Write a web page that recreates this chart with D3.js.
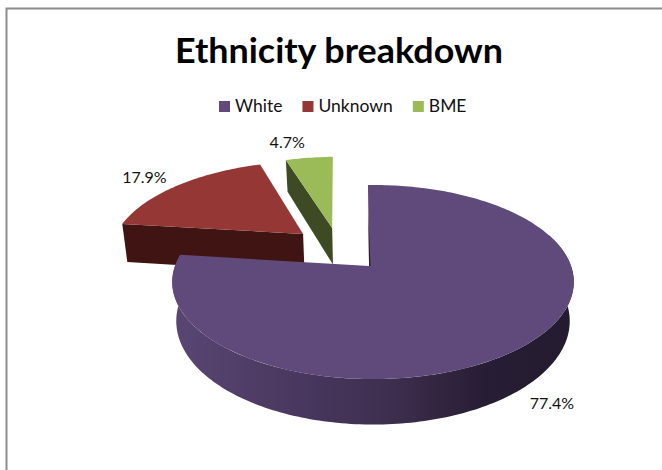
<!DOCTYPE html>
<html>
<head>
<meta charset="utf-8">
<script src="https://cdn.jsdelivr.net/npm/d3@7"></script>
<style>
html,body{margin:0;padding:0;background:#fff;}
svg{display:block;}
text{font-family:Lato,"Open Sans",sans-serif;}
</style>
</head>
<body>
<svg width="662" height="470"></svg>
<script>
var title='Ethnicity breakdown';
var categories=['White','Unknown','BME'];
var values=[77.4,17.9,4.7];
var topColors=['#604a7b','#953735','#9bbb59'];
var sideColors=['#3f2f52','#3f1412','#3e4a23'];

var svg=d3.select('svg');

// chart frame: only top and left edges show in the picture
svg.append('path').attr('d','M6.5,470V8.5H662').attr('fill','none').attr('stroke','#8c8c8c').attr('stroke-width',2);

svg.append('text').attr('x',339).attr('y',63).attr('text-anchor','middle')
  .attr('font-size',34).attr('font-weight',700).attr('fill','#000')
  .attr('textLength',328).attr('lengthAdjust','spacingAndGlyphs').text(title);

// 3d projection of the pie disc
var cx=373, cy=266, rx=198, ry=94.4, k=0.165, bottomScale=0.98;
var sliceDepth=[38,41,39];
var rot=-1.7*Math.PI/180;

// how far each slice is pulled out of the pie, in disc units
var explode=[[0,0],[-0.374,-0.36],[-0.221,-0.43]];
var apexShift=[-0.02,0,0];
var labelOff=[[27,59],[-33,-8],[-22,-15]];

function proj(u,v,low,i){
  var w=1-k*v;
  var x=rx*u/w, y=ry*v/w;
  if(low){ x*=bottomScale; y+=sliceDepth[i]/w; }
  return [cx+x,cy+y];
}
function rim(a,i,low){
  return proj(Math.sin(a)+explode[i][0],-Math.cos(a)+explode[i][1],low,i);
}
function apex(i,low){
  return proj(explode[i][0]+apexShift[i],explode[i][1],low,i);
}
function angles(a0,a1){
  var n=Math.max(2,Math.ceil((a1-a0)/0.02));
  return d3.range(n+1).map(function(j){return a0+(a1-a0)*j/n;});
}

var line=d3.line();
var pie=d3.pie().sort(null).value(function(d){return d;}).startAngle(rot).endAngle(rot+2*Math.PI);
var arcs=pie(values);

var defs=svg.append('defs');
var grad=defs.append('linearGradient').attr('id','wallGrad').attr('gradientUnits','userSpaceOnUse')
  .attr('x1',172).attr('x2',574).attr('y1',0).attr('y2',0);
[[0,'#594673'],[0.3,'#4a3860'],[0.55,'#3d2e4e'],[0.78,'#271d34'],[1,'#241b30']].forEach(function(s){
  grad.append('stop').attr('offset',s[0]).attr('stop-color',s[1]);
});

// back slices first, white last
[2,1,0].forEach(function(i){
  var d=arcs[i];
  var g=svg.append('g');
  var rimPts=angles(d.startAngle,d.endAngle);
  if(i===0){
    // round outer wall of the big slice
    var wallA=angles(70*Math.PI/180,d.endAngle);
    var pts=wallA.map(function(a){return rim(a,i,false);})
      .concat(wallA.slice().reverse().map(function(a){return rim(a,i,true);}));
    g.append('path').attr('d',line(pts)+'Z').attr('fill','url(#wallGrad)');
  } else {
    // cut face towards the viewer
    var s0=rim(d.startAngle,i,false), s1=rim(d.startAngle,i,true);
    g.append('path').attr('d',line([s0,apex(i,false),apex(i,true),s1])+'Z').attr('fill',sideColors[i]);
  }
  var top=[apex(i,false)].concat(rimPts.map(function(a){return rim(a,i,false);}));
  g.append('path').attr('d',line(top)+'Z').attr('fill',topColors[i]);
  if(i===0){
    // thin dark sliver of the inner face
    var a=apex(i,false), b=rim(d.startAngle,i,false);
    var c=[a[0]+(b[0]-a[0])*0.65,a[1]+(b[1]-a[1])*0.65];
    g.append('path').attr('d',line([a,c,[a[0]+1.5,a[1]]])+'Z').attr('fill','#2a2035');
  }
});

// percent labels
arcs.forEach(function(d,i){
  var m=(d.startAngle+d.endAngle)/2;
  var p=rim(m,i,false);
  svg.append('text').attr('x',p[0]+labelOff[i][0]).attr('y',p[1]+labelOff[i][1]+5)
    .attr('text-anchor','middle').attr('font-size',16).attr('fill','#111')
    .text(d3.format('.1f')(d.value)+'%');
});

// legend, laid out left to right
var lx=219;
categories.forEach(function(c,i){
  svg.append('rect').attr('x',lx).attr('y',101).attr('width',11).attr('height',11).attr('fill',topColors[i]);
  var t=svg.append('text').attr('x',lx+16).attr('y',112).attr('font-size',17.5).attr('fill','#111').text(c);
  lx+=16+t.node().getComputedTextLength()+20;
});
</script>
</body>
</html>
